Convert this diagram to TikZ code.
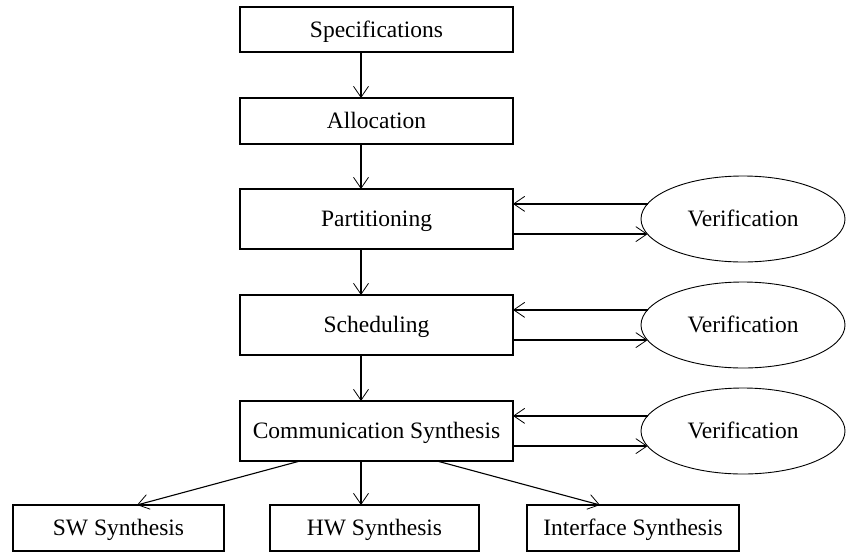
\documentclass[tikz,border=0pt]{standalone}
\usepackage{fontspec}
\setmainfont{Liberation Serif}
\usetikzlibrary{arrows.meta,shapes.geometric}
\begin{document}
\begin{tikzpicture}[x=1pt,y=-1pt,
  label text/.style={font=\fontsize{23.5}{28}\selectfont,
    text height=20pt,text depth=4.5pt},
  box/.style={draw,line width=1.8pt,inner sep=0pt,outer sep=0pt,
    minimum width=273pt,minimum height=60pt,label text},
  smallbox/.style={box,minimum height=46pt},
  verif/.style={draw,ellipse,line width=0.9pt,inner sep=0pt,outer sep=0pt,
    minimum width=204pt,minimum height=86pt,label text},
  arr/.style={line width=1.4pt,
    -{Straight Barb[length=11pt,width=15pt,line width=0.8pt]}},
  thinarr/.style={arr,line width=1.1pt}]
\useasboundingbox (0,0) rectangle (846,552);

% main flow
\node[smallbox,minimum height=45pt] (spec)  at (376.5,29.5) {Specifications};
\node[smallbox]                     (alloc) at (376.5,121)  {Allocation};
\node[box]                          (part)  at (376.5,219)  {Partitioning};
\node[box]                          (sched) at (376.5,325)  {Scheduling};
\node[box]                          (comm)  at (376.5,431)  {Communication Synthesis};

% synthesis back ends
\node[smallbox,minimum width=211pt] (sw)   at (118.5,528) {SW Synthesis};
\node[smallbox,minimum width=209pt] (hw)   at (374.5,528) {HW Synthesis};
\node[smallbox,minimum width=212pt] (intf) at (633,528)   {Interface Synthesis};

% verification loops
\node[verif] (ver1) at (743,219) {Verification};
\node[verif] (ver2) at (743,325) {Verification};
\node[verif] (ver3) at (743,431) {Verification};

% x positions of the vertical connectors
\coordinate (ax) at (361,0);
\coordinate (lx) at (300,0);
\coordinate (rx) at (437,0);
\coordinate (swx) at (137,0);
\coordinate (ix) at (600,0);

\draw[arr] (spec.south -| ax)  -- (alloc.north -| ax);
\draw[arr] (alloc.south -| ax) -- (part.north -| ax);
\draw[arr] (part.south -| ax)  -- (sched.north -| ax);
\draw[arr] (sched.south -| ax) -- (comm.north -| ax);

\foreach \b/\v in {part/ver1,sched/ver2,comm/ver3}{
  \draw[arr] (\v.171) -- (\v.171 -| \b.east);
  \draw[arr] (\v.189 -| \b.east) -- (\v.189);
}

\draw[thinarr] (comm.south -| lx) -- (sw.north -| swx);
\draw[thinarr] (comm.south -| ax) -- (hw.north -| ax);
\draw[thinarr] (comm.south -| rx) -- (intf.north -| ix);
\end{tikzpicture}
\end{document}
